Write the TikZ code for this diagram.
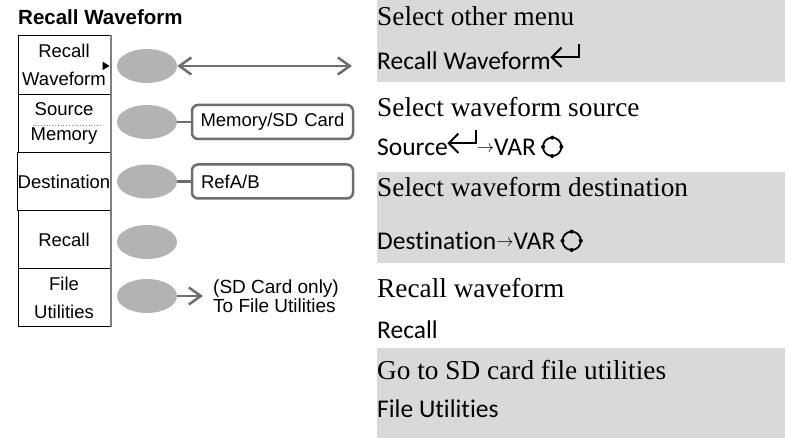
\documentclass[tikz,border=0pt]{standalone}
\usepackage{fontspec}
\setsansfont{Liberation Sans}
\newfontfamily\keyfont{Carlito}[Ligatures=NoCommon]
\newfontfamily\descfont{Liberation Serif}
\usetikzlibrary{arrows.meta,shapes.geometric}
\definecolor{linegray}{HTML}{6E6E6E}
\definecolor{ovalgray}{HTML}{B3B3B3}
\definecolor{bandgray}{HTML}{D9D9D9}
\definecolor{edgegray}{HTML}{808080}
\newcommand{\enterkey}{\tikz[baseline=0pt, x=1em, y=1em, line width=0.08em, line join=miter]{%
  \draw (0.06,0.5) -- (1.12,0.5) -- (1.12,1.02);
  \draw (0.44,0.88) -- (0.06,0.5) -- (0.44,0.12);}}
\newcommand{\varknob}{\tikz[baseline=0pt, x=1em, y=1em, line width=0.07em]{%
  \draw (0,0.36) circle (0.36);
  \foreach \a in {0,90,180,270} \fill[shift={(0,0.36)}] (\a:0.36) circle (0.08);}}
\newcommand{\toarrow}{\raisebox{3pt}{\fontsize{19}{19}\selectfont$\rightarrow$}}

\begin{document}
\begin{tikzpicture}[x=1pt, y=-1pt, >={Straight Barb[length=12pt,width=17pt]},
  menurow/.style={draw, line width=1pt, minimum width=92pt, minimum height=58.2pt, inner sep=0pt,
    align=center, font=\sffamily\fontsize{18.5}{27.5}\selectfont},
  softkey/.style={ellipse, fill=ovalgray, minimum width=60pt, minimum height=34pt, inner sep=0pt},
  optbox/.style={draw=linegray, line width=2.5pt, rounded corners=6pt, minimum width=161pt,
    minimum height=34pt, text width=153pt, inner sep=0pt, font=\sffamily\fontsize{18.5}{18.5}\selectfont},
  conn/.style={linegray, line width=2.5pt},
  desc/.style={anchor=base west, inner sep=0pt, font=\descfont\fontsize{27.3}{27.3}\selectfont},
  keys/.style={anchor=base west, inner sep=0pt, font=\keyfont\fontsize{25.5}{25.5}\selectfont}]
  \useasboundingbox (0,0) rectangle (790,438);

  \node[anchor=base west, inner sep=0pt, font=\sffamily\bfseries\fontsize{20.5}{20.5}\selectfont] (title) at (18,25) {Recall Waveform};

  \node[menurow] (m1) at (64,65.1) {Recall\\Waveform};
  \node[menurow, font=\sffamily\fontsize{18.5}{25}\selectfont] (m2) at (64,123.3) {Source\\Memory};
  \node[menurow] (m3) at (64,181.5) {Destination};
  \node[menurow] (m4) at (64,239.7) {Recall};
  \node[menurow] (m5) at (64,297.9) {File\\Utilities};
  \draw[edgegray, line width=2pt] (m1.north east) -- (m5.south east);
  \draw[gray, dotted, line width=0.8pt] ([xshift=15pt,yshift=-2.5pt]m2.west) -- ([xshift=-8pt,yshift=-2.5pt]m2.east);
  \fill ([xshift=-8pt,yshift=3.5pt]m1.east) -- ++(7pt,-4.3pt) -- ++(-7pt,-4.3pt) -- cycle;

  \node[softkey] (o1) at (147,66) {};
  \node[softkey] (o2) at (147,122) {};
  \node[softkey] (o3) at (147,181.5) {};
  \node[softkey] (o4) at (147,242) {};
  \node[softkey] (o5) at (147,296) {};

  \coordinate (farend) at (352,66);
  \draw[conn, <->] (o1) -- (farend);
  \node[optbox, align=center] (b2) at (272.5,122) {Memory/SD Card};
  \node[optbox, text width=143pt, align=left] (b3) at (272.5,181.5) {RefA/B};
  \draw[conn] (o2) -- (b2);
  \draw[conn] (o3) -- (b3);
  \node[anchor=west, inner xsep=10pt, inner ysep=0pt, align=left, font=\sffamily\fontsize{19}{19}\selectfont] (note) at (203,296) {(SD Card only)\\To File Utilities};
  \draw[conn, ->] (o5) -- (note);

  \fill[bandgray] (377,0) rectangle (785,82);
  \fill[bandgray] (377,172) rectangle (785,263);
  \fill[bandgray] (377,348) rectangle (785,438);
  \node[desc] (d1) at (377,26) {Select other menu};
  \node[keys] (k1) at (377,70) {Recall Waveform\enterkey};
  \node[desc] (d2) at (377,117) {Select waveform source};
  \node[keys] (k2) at (377,156) {Source\enterkey\toarrow VAR\hspace{5pt}\varknob};
  \node[desc] (d3) at (377,197) {Select waveform destination};
  \node[keys] (k3) at (377,250) {Destination\toarrow VAR\hspace{5pt}\varknob};
  \node[desc] (d4) at (377,298) {Recall waveform};
  \node[keys] (k4) at (377,338) {Recall};
  \node[desc] (d5) at (377,380) {Go to SD card file utilities};
  \node[keys] (k5) at (377,417) {File Utilities};
\end{tikzpicture}
\end{document}
